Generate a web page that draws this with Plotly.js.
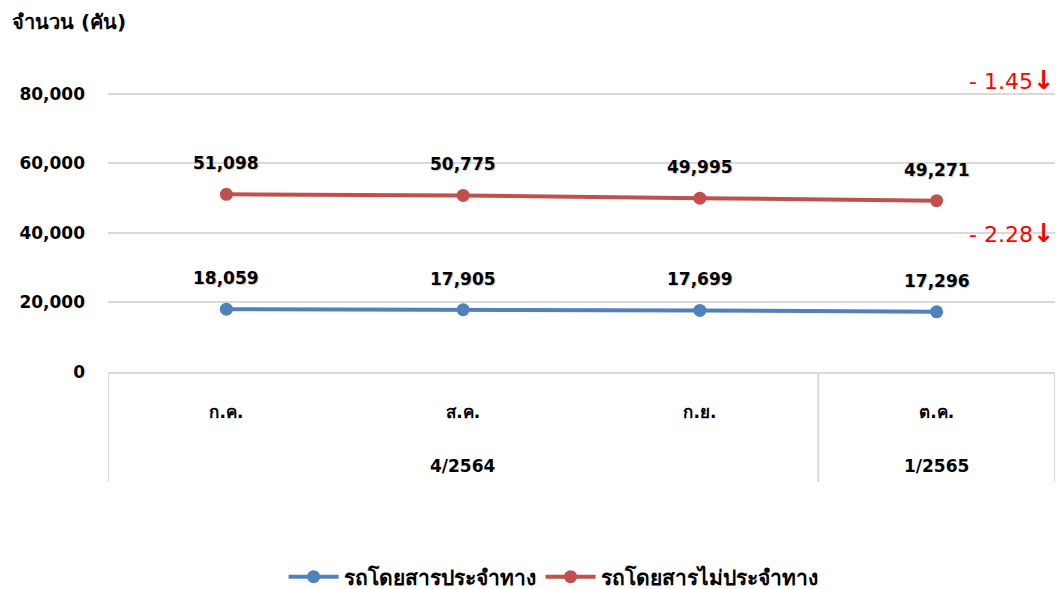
<!DOCTYPE html>
<html>
<head>
<meta charset="utf-8">
<script src="https://cdn.plot.ly/plotly-3.0.1.min.js"></script>
<style>html,body{margin:0;padding:0;background:#fff;}</style>
</head>
<body>
<div id="chart" style="width:1057px;height:589px;"></div>
<script>
const months = ["ก.ค.", "ส.ค.", "ก.ย.", "ต.ค."];
const quarters = ["4/2564", "4/2564", "4/2564", "1/2565"];
const fixedRoute = [18059, 17905, 17699, 17296];
const nonFixedRoute = [51098, 50775, 49995, 49271];
const seriesNames = ["รถโดยสารประจำทาง", "รถโดยสารไม่ประจำทาง"];
const changeLabels = ["- 2.28", "- 1.45"];
const changeLevels = [40000, 84000];
const yTicks = [0, 20000, 40000, 60000, 80000];
const yTitle = "จำนวน (คัน)";

const FONT = "'DejaVu Sans', Tahoma, sans-serif";
const fmt = v => v.toLocaleString('en-US');
const PW = 947, PH = 299;

const traces = [
  {x: months, y: fixedRoute, name: seriesNames[0], type: 'scatter', mode: 'lines+markers',
   line: {color: '#4f81bd', width: 4}, marker: {color: '#4f81bd', size: 13}},
  {x: months, y: nonFixedRoute, name: seriesNames[1], type: 'scatter', mode: 'lines+markers',
   line: {color: '#c0504d', width: 4}, marker: {color: '#c0504d', size: 13}}
];

const annotations = [];
const shapes = [];
[fixedRoute, nonFixedRoute].forEach(arr => {
  arr.forEach((v, i) => {
    annotations.push({x: months[i], y: v, xref: 'x', yref: 'y', text: fmt(v), showarrow: false,
      yanchor: 'middle', yshift: 31,
      font: {family: FONT, size: 17, color: '#000', weight: 'bold', shadow: '1px 1px 1px #c8c8c8'}});
  });
});
changeLabels.forEach((t, i) => {
  annotations.push({x: 1, xref: 'paper', xanchor: 'right', xshift: 2, y: changeLevels[i], yref: 'y', yanchor: 'middle',
    text: t + '<b style="font-size:26px">↓</b>', showarrow: false,
    font: {family: FONT, size: 22, color: '#ff0000', weight: 'normal'}});
});
annotations.push({x: (10 - 108) / PW, xref: 'paper', xanchor: 'left', y: 1 + (73 - 22) / PH, yref: 'paper', yanchor: 'middle',
  text: yTitle, showarrow: false, font: {family: FONT, size: 20, color: '#000', weight: 'bold'}});

// quarter groups: second row of category labels and dividers
const groups = [];
quarters.forEach((q, i) => {
  if (!groups.length || groups[groups.length - 1].q !== q) groups.push({q: q, start: i, end: i});
  else groups[groups.length - 1].end = i;
});
const rowY = (372 - 466) / PH, divBottom = (372 - 482) / PH;
groups.forEach((g, gi) => {
  annotations.push({x: (g.start + g.end) / 2, xref: 'x', y: rowY, yref: 'paper', yanchor: 'middle',
    text: g.q, showarrow: false, font: {family: FONT, size: 17, color: '#000', weight: 'bold'}});
  const edges = gi === 0 ? [g.start - 0.5, g.end + 0.5] : [g.end + 0.5];
  edges.forEach(e => shapes.push({type: 'line', xref: 'x', x0: e, x1: e, yref: 'paper', y0: 0, y1: divBottom,
    line: {color: '#d9d9d9', width: 2}}));
});

const layout = {
  width: 1057, height: 589,
  margin: {l: 108, r: 2, t: 73, b: 217},
  paper_bgcolor: '#fff', plot_bgcolor: '#fff',
  font: {family: FONT, size: 17, color: '#000', weight: 'bold'},
  showlegend: true,
  legend: {orientation: 'h', x: 0.47, xanchor: 'center', yref: 'container', y: (589 - 577) / 589, yanchor: 'middle',
    font: {family: FONT, size: 21, color: '#000', weight: 'bold'}, itemwidth: 50, tracegroupgap: 0},
  xaxis: {type: 'category', range: [-0.5, 3.5], showline: true, linecolor: '#d9d9d9', linewidth: 2,
    ticks: '', ticklabelstandoff: 24,
    tickfont: {family: FONT, size: 17, color: '#000', weight: 'bold'}, showgrid: false, zeroline: false},
  yaxis: {range: [0, 86000], tickvals: yTicks, tickformat: ',d', showgrid: true, gridcolor: '#d9d9d9', gridwidth: 2,
    zeroline: false, showline: false, ticklabelstandoff: 22,
    tickfont: {family: FONT, size: 17, color: '#000', weight: 'bold'}},
  annotations: annotations,
  shapes: shapes
};

Plotly.newPlot('chart', traces, layout, {displayModeBar: false});
</script>
</body>
</html>
